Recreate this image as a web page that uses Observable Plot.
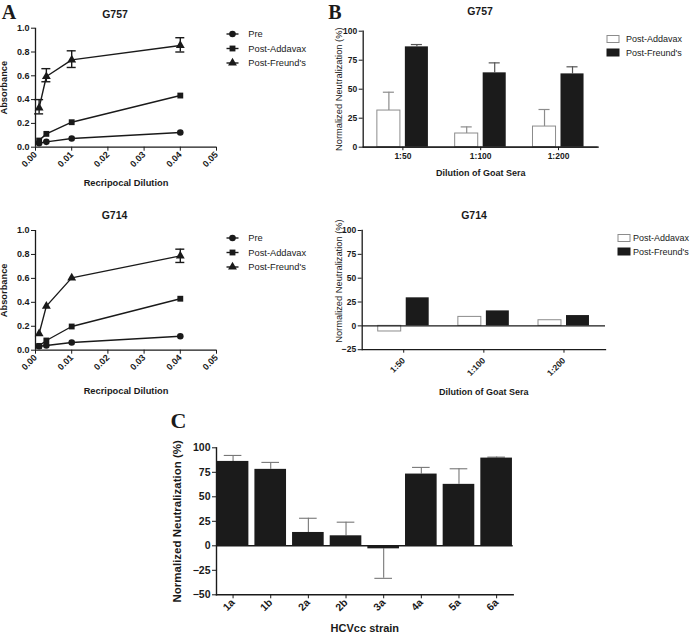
<!DOCTYPE html>
<html><head><meta charset="utf-8">
<script src="https://cdn.jsdelivr.net/npm/d3@7"></script>
<script src="https://cdn.jsdelivr.net/npm/@observablehq/plot@0.6"></script>
<style>
body{margin:0;background:#fff;}
#fig{position:relative;width:696px;height:637px;overflow:hidden;font-family:"Liberation Sans",Arial,sans-serif;color:#1a1a1a;}
#fig > *{position:absolute;}
</style></head><body><div id="fig"></div><script>
// ---------- data ----------
const dilutions = [0.001, 0.003, 0.01, 0.04];
const absSeries = ["Pre", "Post-Addavax", "Post-Freund's"];
const absXTicks = [0, 0.01, 0.02, 0.03, 0.04, 0.05];
const absYTicks = [0, 0.2, 0.4, 0.6, 0.8, 1.0];

const g757Pre = [0.034, 0.045, 0.073, 0.123];
const g757Addavax = [0.056, 0.112, 0.21, 0.434];
const g757Freund = [0.33, 0.594, 0.734, 0.855];
const g757FreundLo = [0.28, 0.55, 0.67, 0.80];
const g757FreundHi = [0.40, 0.66, 0.81, 0.92];

const g714Pre = [0.033, 0.039, 0.064, 0.117];
const g714Addavax = [0.036, 0.081, 0.198, 0.43];
const g714Freund = [0.139, 0.368, 0.604, 0.788];
const g714FreundLo = [null, null, null, 0.733];
const g714FreundHi = [null, null, null, 0.844];

const sera = ["1:50", "1:100", "1:200"];
const neutSeries = ["Post-Addavax", "Post-Freund's"];
const g757NAddavax = [31.6, 11.8, 17.8];
const g757NAddavaxErr = [47.4, 17.5, 32.5];
const g757NFreund = [86.5, 64.1, 63.2];
const g757NFreundErr = [88.5, 72.7, 69.3];
const g757NTicks = [0, 25, 50, 75, 100];

const g714NAddavax = [-5.9, 9.4, 5.9];
const g714NFreund = [29.4, 15.7, 10.8];
const g714NTicks = [-25, 0, 25, 50, 75, 100];

const strains = ["1a", "1b", "2a", "2b", "3a", "4a", "5a", "6a"];
const strainNeut = [86.1, 78.0, 13.6, 10.2, -3.1, 73.2, 62.7, 89.5];
const strainErr = [92.2, 85.1, 28.1, 24.1, -33.2, 80.0, 78.6, 90.5];
const strainTicks = [-50, -25, 0, 25, 50, 75, 100];

// ---------- helpers ----------
const ink = "#1a1a1a";
const barInk = "#1b1b1b";
const font = '"Liberation Sans", Arial, Helvetica, sans-serif';
const fig = document.getElementById("fig");

function put(el, left, top) {
  el.style.position = "absolute";
  el.style.left = left + "px";
  el.style.top = top + "px";
  fig.appendChild(el);
}
function addText(txt, cx, cy, {size = 10.5, weight = "bold", family = font} = {}) {
  const d = document.createElement("div");
  d.textContent = txt;
  Object.assign(d.style, {fontFamily: family, fontSize: size + "px", fontWeight: weight,
    lineHeight: "1", whiteSpace: "nowrap", transform: "translate(-50%,-50%)", color: ink});
  put(d, cx, cy);
}
function plotStyle() {
  return {fontFamily: font, color: ink, background: "transparent", overflow: "visible"};
}

// ---------- Panel A: absorbance line charts ----------
function absPanel(cfg) {
  const sets = [cfg.pre, cfg.add, cfg.fr];
  const rows = [];
  absSeries.forEach((s, k) => dilutions.forEach((d, i) => rows.push({series: s, dil: d, abs: sets[k][i]})));
  const errs = dilutions.map((d, i) => ({dil: d, lo: cfg.lo[i], hi: cfg.hi[i]})).filter(e => e.lo != null);
  return Plot.plot({
    width: 340, height: 200,
    marginLeft: 35, marginRight: 124, marginTop: cfg.mt, marginBottom: cfg.mb,
    style: plotStyle(),
    x: {domain: [0, 0.05]},
    y: {domain: [0, 1]},
    symbol: {domain: absSeries, range: ["circle", "square", "triangle"]},
    marks: [
      Plot.ruleY([0], {stroke: ink, strokeWidth: 1.3}),
      Plot.ruleX([0], {stroke: ink, strokeWidth: 1.3}),
      Plot.axisX({ticks: absXTicks, tickFormat: d3.format(".2f"), tickRotate: -45, tickSize: 4, tickPadding: 2,
        label: null, fontSize: 9, fontWeight: "bold", stroke: ink}),
      Plot.axisX({ticks: [], tickSize: 0, label: "Recripocal Dilution", labelAnchor: "center",
        labelOffset: cfg.xlo, labelArrow: "none", fontSize: 9.3, fontWeight: "bold"}),
      Plot.axisY({ticks: absYTicks, tickFormat: d3.format(".1f"), tickSize: 4, tickPadding: 2,
        label: null, fontSize: 9, fontWeight: "bold"}),
      Plot.axisY({ticks: [], tickSize: 0, label: "Absorbance", labelAnchor: "center",
        labelOffset: 35, labelArrow: "none", fontSize: 9.3, fontWeight: "bold"}),
      Plot.line(rows, {x: "dil", y: "abs", z: "series", stroke: ink, strokeWidth: 1.4}),
      Plot.ruleX(errs, {x: "dil", y1: "lo", y2: "hi", stroke: ink, strokeWidth: 1.4}),
      Plot.ruleY(errs, {y: "lo", x1: "dil", x2: "dil", insetLeft: -4.5, insetRight: -4.5, stroke: ink, strokeWidth: 1.4}),
      Plot.ruleY(errs, {y: "hi", x1: "dil", x2: "dil", insetLeft: -4.5, insetRight: -4.5, stroke: ink, strokeWidth: 1.4}),
      Plot.dot(rows, {x: "dil", y: "abs", symbol: "series", fill: ink, stroke: "none", r: 3.3})
    ]
  });
}
function absLegend(left, top) {
  const svg = d3.create("svg").attr("width", 110).attr("height", 50).style("overflow", "visible");
  const types = [d3.symbolCircle, d3.symbolSquare, d3.symbolTriangle];
  absSeries.forEach((s, k) => {
    const g = svg.append("g").attr("transform", `translate(0,${7 + k * 14.5})`);
    g.append("line").attr("x1", 4.5).attr("x2", 16.5).attr("stroke", ink).attr("stroke-width", 1.4);
    g.append("path").attr("transform", "translate(10.5,0)").attr("d", d3.symbol(types[k], Math.PI * 3.3 * 3.3)()).attr("fill", ink);
    g.append("text").attr("x", 26.3).attr("dy", "0.35em").attr("font-family", font).attr("font-size", 9.3).attr("fill", ink).text(s);
  });
  put(svg.node(), left, top);
}

// ---------- Panel B: grouped neutralization bars ----------
function neutPanel(cfg) {
  const add = sera.map((s, i) => ({dil: s, v: cfg.add[i], err: cfg.addErr ? cfg.addErr[i] : null}));
  const fr = sera.map((s, i) => ({dil: s, v: cfg.fr[i], err: cfg.frErr ? cfg.frErr[i] : null}));
  const addE = add.filter(d => d.err != null), frE = fr.filter(d => d.err != null);
  return Plot.plot({
    width: 366, height: 200,
    marginLeft: cfg.ml, marginRight: cfg.mr, marginTop: cfg.mt, marginBottom: cfg.mb,
    style: plotStyle(),
    x: {domain: sera, paddingInner: cfg.pi, paddingOuter: cfg.po, round: false},
    y: {domain: cfg.yDomain},
    marks: [
      Plot.ruleX(addE, {x: "dil", y1: "v", y2: "err", dx: -14, stroke: "#8c8c8c", strokeWidth: 1.2}),
      Plot.tickY(addE, {x: "dil", y: "err", insetLeft: 6, insetRight: 34, stroke: "#8c8c8c", strokeWidth: 1.2}),
      Plot.ruleX(frE, {x: "dil", y1: "v", y2: "err", dx: 14, stroke: "#555", strokeWidth: 1.2}),
      Plot.tickY(frE, {x: "dil", y: "err", insetLeft: 34, insetRight: 6, stroke: "#555", strokeWidth: 1.2}),
      Plot.barY(add, {x: "dil", y: "v", fill: "white", stroke: "#8c8c8c", strokeWidth: 1, insetRight: 28}),
      Plot.barY(fr, {x: "dil", y: "v", fill: barInk, insetLeft: 28}),
      Plot.ruleY([0], {stroke: ink, strokeWidth: 1.3}),
      Plot.frame({anchor: "left", stroke: ink, strokeWidth: 1.3}),
      Plot.frame({anchor: "bottom", stroke: ink, strokeWidth: 1.3}),
      Plot.axisX({tickRotate: cfg.rot, tickSize: 3.5, tickPadding: cfg.tp, label: null, fontSize: 8.5, fontWeight: "bold"}),
      Plot.axisX({ticks: [], tickSize: 0, label: "Dilution of Goat Sera", labelAnchor: "center",
        labelOffset: cfg.xlo, labelArrow: "none", fontSize: 9, fontWeight: "bold"}),
      Plot.axisY({ticks: cfg.ticks, tickSize: 4, tickPadding: 2, label: null, fontSize: 8.5, fontWeight: "bold"}),
      Plot.text(["Normalized Neutralization (%)"], {frameAnchor: "left", rotate: -90, textAnchor: "middle",
        lineAnchor: "top", dx: cfg.ydx, dy: cfg.ydy, fontSize: 9.3, fill: ink})
    ]
  });
}
function neutLegend(left, top, textX) {
  const svg = d3.create("svg").attr("width", 90).attr("height", 30).style("overflow", "visible");
  neutSeries.forEach((s, k) => {
    const g = svg.append("g").attr("transform", `translate(0,${7 + k * 13.5})`);
    g.append("rect").attr("x", 7).attr("y", -3.5).attr("width", 12).attr("height", 7)
      .attr("fill", k === 0 ? "white" : barInk).attr("stroke", k === 0 ? "#8c8c8c" : barInk);
    g.append("text").attr("x", textX).attr("dy", "0.35em").attr("font-family", font).attr("font-size", 9).attr("fill", ink).text(s);
  });
  put(svg.node(), left, top);
}

// ---------- Panel C: strain bars ----------
function strainPanel() {
  const rows = strains.map((s, i) => ({strain: s, v: strainNeut[i], err: strainErr[i]}));
  return Plot.plot({
    width: 420, height: 237,
    marginLeft: 76, marginRight: 47.3, marginTop: 47.3, marginBottom: 42.7,
    style: plotStyle(),
    x: {domain: strains, paddingInner: 0.16, paddingOuter: 0.02, round: false},
    y: {domain: [-50, 100]},
    marks: [
      Plot.ruleX(rows, {x: "strain", y1: "v", y2: "err", stroke: "#777", strokeWidth: 1.1}),
      Plot.tickY(rows, {x: "strain", y: "err", insetLeft: 7, insetRight: 7, stroke: "#777", strokeWidth: 1.1}),
      Plot.barY(rows, {x: "strain", y: "v", fill: barInk}),
      Plot.ruleY([0], {stroke: ink, strokeWidth: 1.4}),
      Plot.frame({anchor: "left", stroke: ink, strokeWidth: 1.4}),
      Plot.frame({anchor: "bottom", stroke: ink, strokeWidth: 1.4}),
      Plot.axisX({tickRotate: -45, tickSize: 4, tickPadding: 2, label: null, fontSize: 10.5, fontWeight: "bold"}),
      Plot.axisX({ticks: [], tickSize: 0, label: "HCVcc strain", labelAnchor: "center",
        labelOffset: 37, labelArrow: "none", fontSize: 11, fontWeight: "bold"}),
      Plot.axisY({ticks: strainTicks, tickSize: 4, tickPadding: 2, label: null, fontSize: 10.5, fontWeight: "bold"}),
      Plot.axisY({ticks: [], tickSize: 0, label: "Normalized Neutralization (%)", labelAnchor: "center",
        labelOffset: 43.5, labelArrow: "none", fontSize: 11.5, fontWeight: "bold"})
    ]
  });
}

// ---------- assemble ----------
put(absPanel({pre: g757Pre, add: g757Addavax, fr: g757Freund, lo: g757FreundLo, hi: g757FreundHi, mt: 27.7, mb: 53.3, xlo: 39}), 0, 0);
put(absPanel({pre: g714Pre, add: g714Addavax, fr: g714Freund, lo: g714FreundLo, hi: g714FreundHi, mt: 30, mb: 50.3, xlo: 44}), 0, 200);
absLegend(222, 27);
absLegend(222, 231);

put(neutPanel({add: g757NAddavax, addErr: g757NAddavaxErr, fr: g757NFreund, frErr: g757NFreundErr,
  yDomain: [0, 100], ticks: g757NTicks, ml: 32.7, mr: 98.3, mt: 30.7, mb: 53.3, pi: 0.344, po: 0.182, rot: 0, tp: 2, xlo: 28.5,
  ydx: -27.5, ydy: 0}), 330, 0);
put(neutPanel({add: g714NAddavax, fr: g714NFreund,
  yDomain: [-25, 100], ticks: g714NTicks, ml: 31.7, mr: 91, mt: 30, mb: 50.8, pi: 0.364, po: 0.2, rot: -45, tp: 6, xlo: 45,
  ydx: -26.5, ydy: -9}), 330, 200);
neutLegend(600, 32, 26);
neutLegend(611, 231, 22);

put(strainPanel(), 140, 400);

addText("G757", 115, 13.7);
addText("G714", 114.5, 215.3);
addText("G757", 480, 11);
addText("G714", 474, 214.7);

const serif = '"Liberation Serif", "Times New Roman", serif';
addText("A", 9, 12, {size: 20, family: serif});
addText("B", 335, 12, {size: 20, family: serif});
addText("C", 178.5, 421, {size: 22, family: serif});
</script></body></html>
